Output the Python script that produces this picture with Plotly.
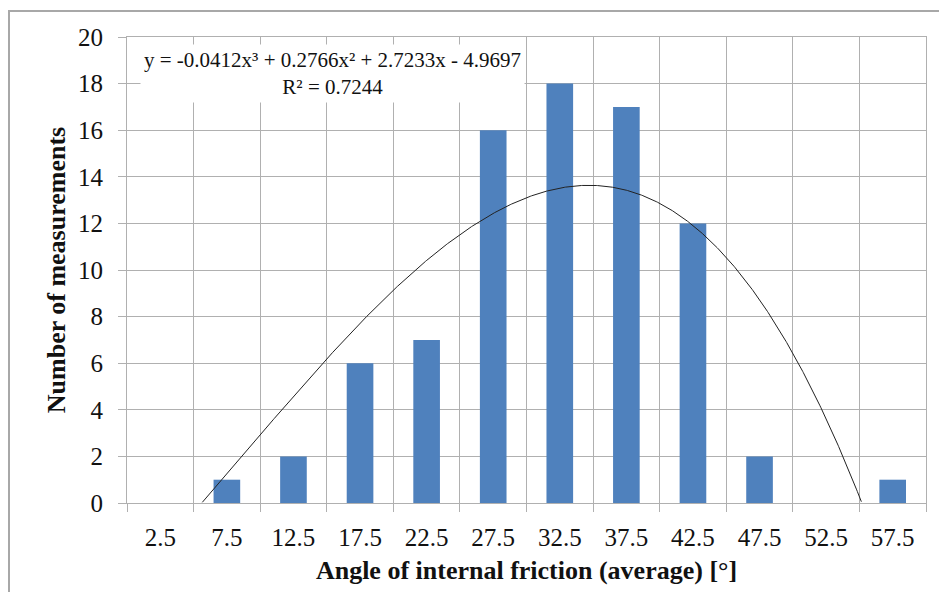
import numpy as np
import plotly.graph_objects as go

categories = ["2.5", "7.5", "12.5", "17.5", "22.5", "27.5", "32.5", "37.5", "42.5", "47.5", "52.5", "57.5"]
counts = [0, 1, 2, 6, 7, 16, 18, 17, 12, 2, 0, 1]
# Excel polynomial trendline coefficients (x = category index 1..12)
coef = [-0.0412, 0.2766, 2.7233, -4.9697]
eq_text = "y = -0.0412x³ + 0.2766x² + 2.7233x - 4.9697<br>R² = 0.7244"

xi = list(range(1, len(categories) + 1))
xs = np.linspace(0.5, 12.5, 1200)
ys = np.polyval(coef, xs)
mask = ys >= 0
xs_t = xs[mask]
ys_t = ys[mask]

font_family = "Liberation Serif, Times New Roman, serif"
grid_col = "#b0b0b0"

fig = go.Figure()
fig.add_trace(go.Bar(x=xi, y=counts, marker=dict(color="#4F81BD", line=dict(width=0)),
                     width=0.4, showlegend=False))
fig.add_trace(go.Scatter(x=xs_t, y=ys_t, mode="lines", line=dict(color="#222222", width=1),
                         showlegend=False, hoverinfo="skip"))

fig.update_layout(
    width=939, height=592,
    margin=dict(l=127, r=13, t=37, b=89),
    paper_bgcolor="white", plot_bgcolor="white",
    font=dict(family=font_family, size=25, color="#111111"),
    xaxis=dict(
        range=[0.5, 12.5], tickvals=xi, ticktext=categories, showgrid=False,
        ticks="", ticklabelstandoff=12,
        showline=True, linecolor=grid_col, linewidth=1, mirror=True,
        minor=dict(tickvals=[i + 0.5 for i in range(0, 13)], showgrid=True, gridcolor=grid_col,
                   gridwidth=1, ticks="outside", ticklen=8, tickcolor=grid_col),
        title=dict(text="<b>Angle of internal friction (average) [°]</b>", font=dict(size=26), standoff=10),
        zeroline=False,
    ),
    yaxis=dict(
        range=[0, 20], dtick=2, showgrid=True, gridcolor=grid_col, gridwidth=1,
        ticks="outside", ticklen=8, tickcolor=grid_col, ticklabelstandoff=10,
        showline=True, linecolor=grid_col, linewidth=1, mirror=True,
        title=dict(text="<b>Number of measurements</b>", font=dict(size=26), standoff=4),
        zeroline=False,
    ),
    annotations=[dict(
        text=eq_text, xref="paper", yref="paper", x=(332 - 127) / 799, y=1 - (73 - 37) / 466,
        xanchor="center", yanchor="middle", showarrow=False, align="center",
        bgcolor="white", borderpad=3, font=dict(size=21, family=font_family, color="#111111"),
    )],
    shapes=[dict(type="rect", xref="paper", yref="paper",
                 x0=-118 / 799, x1=1.1, y0=-0.3, y1=1 + 26 / 466,
                 line=dict(color="#a8a8a8", width=2), layer="below")],
)

fig.write_html("out.html")
